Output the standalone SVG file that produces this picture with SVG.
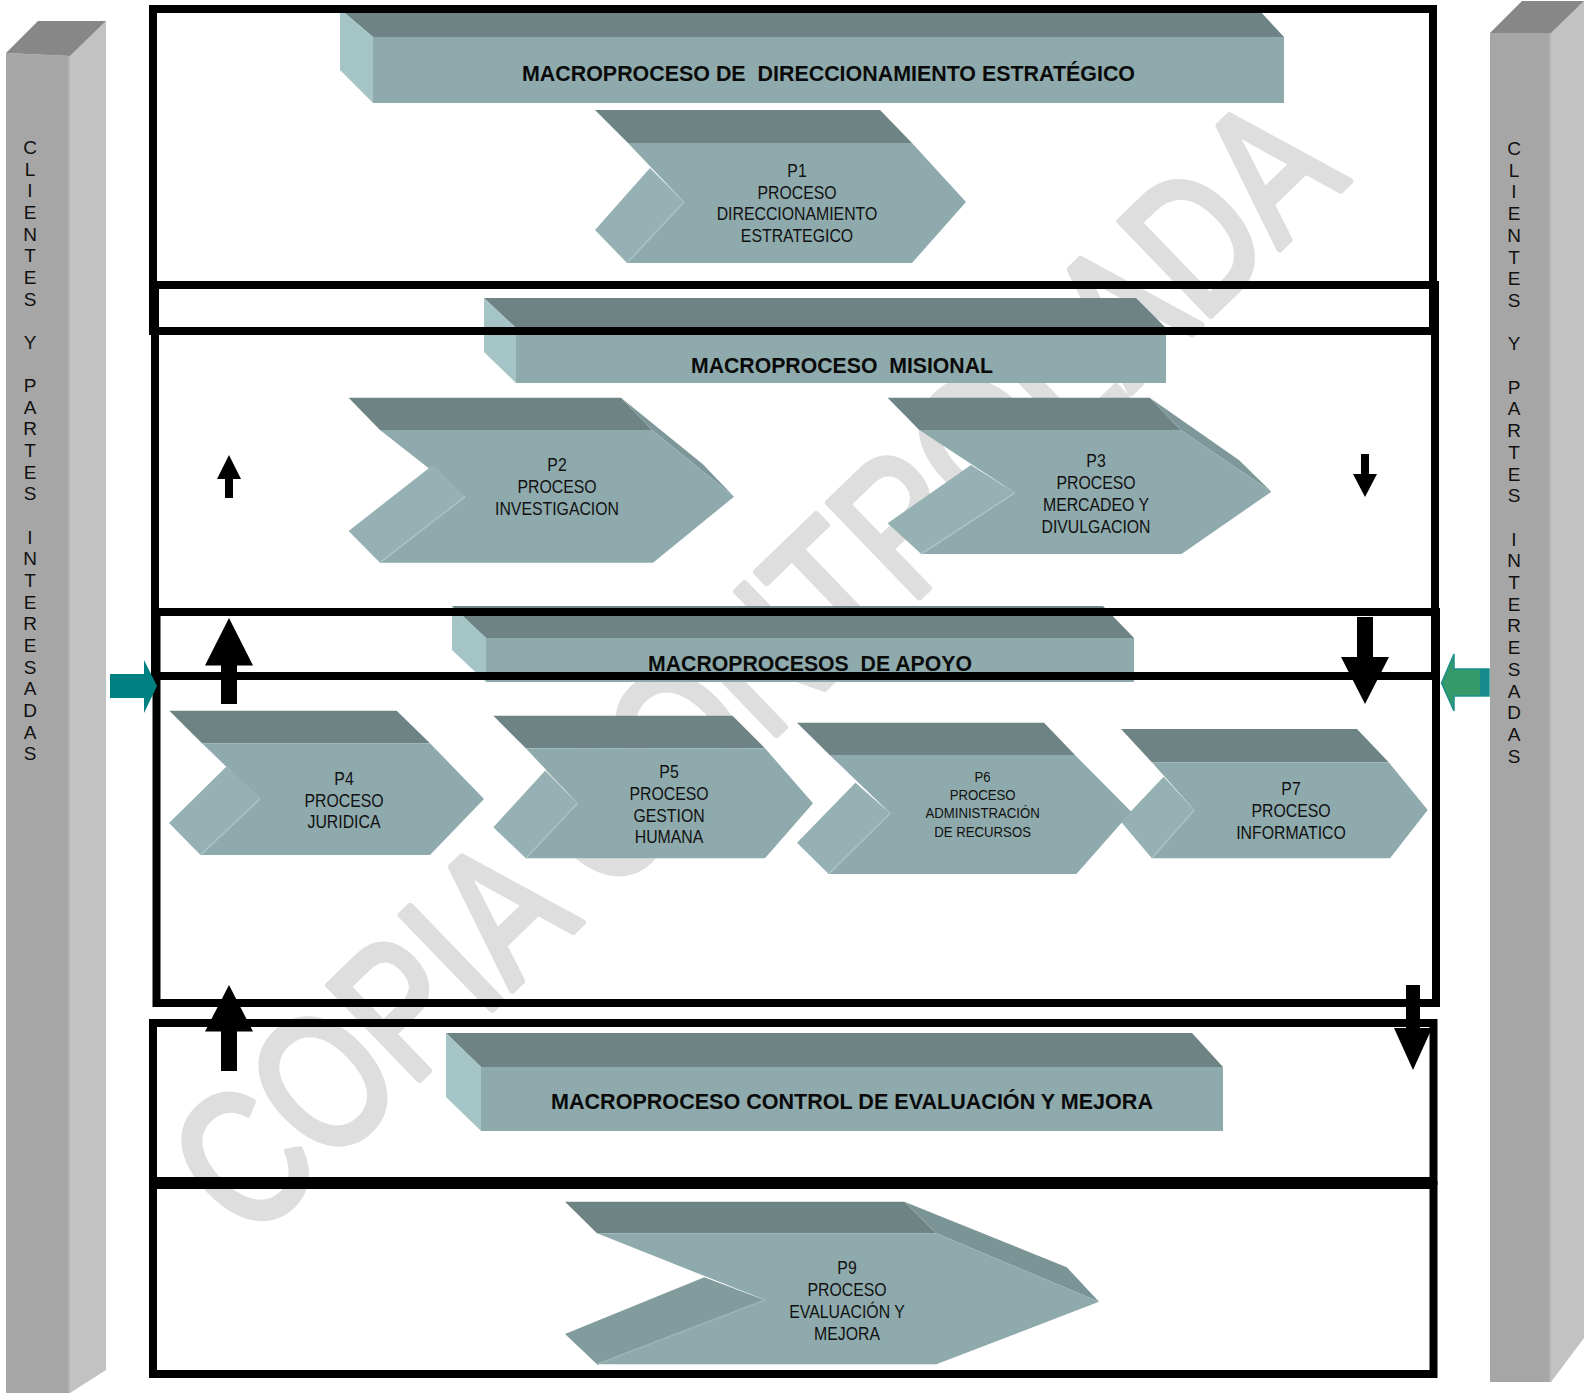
<svg xmlns="http://www.w3.org/2000/svg" width="1584" height="1393" viewBox="0 0 1584 1393">
<style>
.top{fill:#6e8384}
.front{fill:#8eaaac}
.side{fill:#a5c4c6}
.notch{fill:#96b1b3}
.rface{fill:#7e9799}
.frame{fill:none;stroke:#000;stroke-width:8}
.arr{fill:#000}
.lbl{font-family:'Liberation Sans',Arial,sans-serif;font-size:18px;fill:#111;text-anchor:middle}
.lbl15{font-family:'Liberation Sans',Arial,sans-serif;font-size:15px;fill:#111;text-anchor:middle}
.hdr{font-family:'Liberation Sans',Arial,sans-serif;font-weight:bold;font-size:22px;fill:#0a0a0a;white-space:pre}
.pil{font-family:'Liberation Sans',Arial,sans-serif;font-size:19px;fill:#111;text-anchor:middle}
.pfront{fill:#a6a6a6}
.pside{fill:#c2c2c2}
.ptop{fill:#878787}
.wm{font-family:'Liberation Sans',Arial,sans-serif;font-size:190px;fill:#dedede;stroke:#dedede;stroke-width:7;stroke-linejoin:round}
</style>
<rect width="1584" height="1393" fill="#ffffff"/>

<g id="watermark">
<text class="wm" x="0" y="0" text-anchor="middle" textLength="1530" lengthAdjust="spacingAndGlyphs" transform="translate(800 712) rotate(-44)">COPIA CONTROLADA</text>
</g>

<g id="pillar-left">
<polygon class="pfront" points="6,53 70,56 70,1393 6,1393"/>
<polygon class="pside" points="70,56 106,21 106,1370 70,1393"/>
<polygon class="ptop" points="6,53 38,21 106,21 70,56"/>
<rect x="68" y="56" width="2" height="1337" fill="#b4b4b4"/>
<text class="pil"><tspan x="30" y="154">C</tspan><tspan x="30" y="175.65">L</tspan><tspan x="30" y="197.3">I</tspan><tspan x="30" y="218.95">E</tspan><tspan x="30" y="240.6">N</tspan><tspan x="30" y="262.25">T</tspan><tspan x="30" y="283.9">E</tspan><tspan x="30" y="305.55">S</tspan><tspan x="30" y="348.85">Y</tspan><tspan x="30" y="392.15">P</tspan><tspan x="30" y="413.8">A</tspan><tspan x="30" y="435.45">R</tspan><tspan x="30" y="457.1">T</tspan><tspan x="30" y="478.75">E</tspan><tspan x="30" y="500.4">S</tspan><tspan x="30" y="543.7">I</tspan><tspan x="30" y="565.35">N</tspan><tspan x="30" y="587">T</tspan><tspan x="30" y="608.65">E</tspan><tspan x="30" y="630.3">R</tspan><tspan x="30" y="651.95">E</tspan><tspan x="30" y="673.6">S</tspan><tspan x="30" y="695.25">A</tspan><tspan x="30" y="716.9">D</tspan><tspan x="30" y="738.55">A</tspan><tspan x="30" y="760.2">S</tspan></text>
</g>

<g id="pillar-right">
<polygon class="pfront" points="1490,33 1551,33 1551,1382 1490,1382"/>
<polygon class="pside" points="1551,33 1584,1 1584,1338 1551,1382"/>
<polygon class="ptop" points="1490,33 1522,1 1584,1 1551,33"/>
<rect x="1549" y="33" width="2" height="1349" fill="#b4b4b4"/>
<text class="pil"><tspan x="1514" y="155">C</tspan><tspan x="1514" y="176.7">L</tspan><tspan x="1514" y="198.4">I</tspan><tspan x="1514" y="220.1">E</tspan><tspan x="1514" y="241.8">N</tspan><tspan x="1514" y="263.5">T</tspan><tspan x="1514" y="285.2">E</tspan><tspan x="1514" y="306.9">S</tspan><tspan x="1514" y="350.3">Y</tspan><tspan x="1514" y="393.7">P</tspan><tspan x="1514" y="415.4">A</tspan><tspan x="1514" y="437.1">R</tspan><tspan x="1514" y="458.8">T</tspan><tspan x="1514" y="480.5">E</tspan><tspan x="1514" y="502.2">S</tspan><tspan x="1514" y="545.6">I</tspan><tspan x="1514" y="567.3">N</tspan><tspan x="1514" y="589">T</tspan><tspan x="1514" y="610.7">E</tspan><tspan x="1514" y="632.4">R</tspan><tspan x="1514" y="654.1">E</tspan><tspan x="1514" y="675.8">S</tspan><tspan x="1514" y="697.5">A</tspan><tspan x="1514" y="719.2">D</tspan><tspan x="1514" y="740.9">A</tspan><tspan x="1514" y="762.6">S</tspan></text>
</g>

<g id="H1">
<polygon class="top" points="340,9 1258,9 1284,37 373,37"/>
<polygon class="side" points="340,9 373,37 373,103 340,70"/>
<rect class="front" x="373" y="37" width="911" height="66"/>
<text class="hdr" x="522" y="81" textLength="613" lengthAdjust="spacingAndGlyphs" xml:space="preserve">MACROPROCESO DE  DIRECCIONAMIENTO ESTRATÉGICO</text>
</g>

<g id="P1">
<polygon class="top" points="595,110 880,110 912,143 628,143"/>
<polygon class="front" points="628,143 912,143 966,202 912,263 627,263 684,202"/>
<polygon class="notch" points="650,168 684,202 627,263 595,230"/>
<line x1="684" y1="202" x2="627" y2="263" stroke="#a9c4c6" stroke-width="1.5"/>
<g transform="translate(797 0) scale(0.88 1)">
<text class="lbl" x="0" y="177">P1</text>
<text class="lbl" x="0" y="199">PROCESO</text>
<text class="lbl" x="0" y="220.5">DIRECCIONAMIENTO</text>
<text class="lbl" x="0" y="242">ESTRATEGICO</text>
</g>
</g>

<g id="H2">
<polygon class="top" points="484,298 1136,298 1166,328 516,328"/>
<polygon class="side" points="484,298 516,328 516,383 484,352"/>
<rect class="front" x="516" y="328" width="650" height="55"/>
<text class="hdr" x="691" y="373" textLength="302" lengthAdjust="spacingAndGlyphs" xml:space="preserve">MACROPROCESO  MISIONAL</text>
</g>

<g id="P2">
<polygon class="top" points="348.6,397.7 621,397.7 652,430 380,430"/>
<polygon class="rface" points="621,397.7 702.6,464 734,496.7 652,430"/>
<polygon class="front" points="380,430 652,430 734,496.7 653,562.7 380,562.7 465,496.7"/>
<polygon class="notch" points="433.6,464.4 465,496.7 380,562.7 348.6,531"/>
<line x1="465" y1="496.7" x2="380" y2="562.7" stroke="#a9c4c6" stroke-width="1.5"/>
<g transform="translate(557 0) scale(0.88 1)">
<text class="lbl" x="0" y="471">P2</text>
<text class="lbl" x="0" y="493">PROCESO</text>
<text class="lbl" x="0" y="515">INVESTIGACION</text>
</g>
</g>

<g id="P3">
<polygon class="top" points="887.6,397.7 1149.7,397.7 1180.7,430 919.3,430"/>
<polygon class="rface" points="1149.7,397.7 1238.9,460 1271.4,491.7 1180.7,430"/>
<polygon class="front" points="919.3,430 1180.7,430 1271.4,491.7 1181.5,554 921.2,554 1015,492.7"/>
<polygon class="notch" points="971,465 1015,492.7 921.2,554 887.6,523.3"/>
<line x1="1015" y1="492.7" x2="921.2" y2="554" stroke="#a9c4c6" stroke-width="1.5"/>
<g transform="translate(1096 0) scale(0.88 1)">
<text class="lbl" x="0" y="467">P3</text>
<text class="lbl" x="0" y="489">PROCESO</text>
<text class="lbl" x="0" y="511.5">MERCADEO Y</text>
<text class="lbl" x="0" y="533">DIVULGACION</text>
</g>
</g>

<g id="H3">
<polygon class="top" points="452,606 1103,606 1134,638 486,638"/>
<polygon class="side" points="452,606 486,638 486,682 452,650"/>
<rect class="front" x="486" y="638" width="648" height="44"/>
<text class="hdr" x="648" y="671" textLength="324" lengthAdjust="spacingAndGlyphs" xml:space="preserve">MACROPROCESOS  DE APOYO</text>
</g>

<g id="P4">
<polygon class="top" points="169.4,710.7 396.7,710.7 430,743.3 202,743.3"/>
<polygon class="front" points="202,743.3 430,743.3 484,799 430,855 200.5,855 260,799"/>
<polygon class="notch" points="227,766 260,799 200.5,855 169,823"/>
<line x1="260" y1="799" x2="200.5" y2="855" stroke="#a9c4c6" stroke-width="1.5"/>
<g transform="translate(344 0) scale(0.88 1)">
<text class="lbl" x="0" y="785">P4</text>
<text class="lbl" x="0" y="806.7">PROCESO</text>
<text class="lbl" x="0" y="828.3">JURIDICA</text>
</g>
</g>

<g id="P5">
<polygon class="top" points="493.3,715.7 732.5,715.7 765,748.3 525.8,748.3"/>
<polygon class="front" points="525.8,748.3 765,748.3 813,803.3 765,858.3 525.8,858.3 577.5,803.3"/>
<polygon class="notch" points="545,770.7 577.5,803.3 525.8,858.3 493.3,827.3"/>
<line x1="577.5" y1="803.3" x2="525.8" y2="858.3" stroke="#a9c4c6" stroke-width="1.5"/>
<g transform="translate(669 0) scale(0.88 1)">
<text class="lbl" x="0" y="778">P5</text>
<text class="lbl" x="0" y="800">PROCESO</text>
<text class="lbl" x="0" y="821.7">GESTION</text>
<text class="lbl" x="0" y="843.3">HUMANA</text>
</g>
</g>

<g id="P6">
<polygon class="top" points="797,722.7 1044,722.7 1075,755 829.7,755"/>
<polygon class="front" points="829.7,755 1075,755 1131.3,811.7 1076.4,874 828.7,874 890.3,813.3"/>
<polygon class="notch" points="855.4,782.7 890.3,813.3 828.7,874 797,842.7"/>
<line x1="890.3" y1="813.3" x2="828.7" y2="874" stroke="#a9c4c6" stroke-width="1.5"/>
<g transform="translate(982.6 0) scale(0.88 1)">
<text class="lbl15" x="0" y="781.7">P6</text>
<text class="lbl15" x="0" y="800">PROCESO</text>
<text class="lbl15" x="0" y="818.3">ADMINISTRACIÓN</text>
<text class="lbl15" x="0" y="836.7">DE RECURSOS</text>
</g>
</g>

<g id="P7">
<polygon class="top" points="1121,729 1357,729 1388.7,762.3 1151.8,762.3"/>
<polygon class="front" points="1151.8,762.3 1388.7,762.3 1427.7,810 1390,858.3 1151.8,858.3 1194.4,810"/>
<polygon class="notch" points="1163.6,776.7 1194.4,810 1151.8,858.3 1121,821.7"/>
<line x1="1194.4" y1="810" x2="1151.8" y2="858.3" stroke="#a9c4c6" stroke-width="1.5"/>
<g transform="translate(1291 0) scale(0.88 1)">
<text class="lbl" x="0" y="795">P7</text>
<text class="lbl" x="0" y="816.7">PROCESO</text>
<text class="lbl" x="0" y="839">INFORMATICO</text>
</g>
</g>

<g id="H4">
<polygon class="top" points="446,1033 1192,1033 1223,1067 481,1067"/>
<polygon class="side" points="446,1033 481,1067 481,1131 446,1097"/>
<rect class="front" x="481" y="1067" width="742" height="64"/>
<text class="hdr" x="551" y="1109" textLength="602" lengthAdjust="spacingAndGlyphs">MACROPROCESO CONTROL DE EVALUACIÓN Y MEJORA</text>
</g>

<g id="P9">
<polygon class="top" points="565,1201.7 904.3,1201.7 936.4,1233.3 597,1233.3"/>
<polygon fill="#7b9596" points="904.3,1201.7 1066.8,1267.3 1099,1301.7 936.4,1233.3"/>
<polygon class="front" points="597,1233.3 936.4,1233.3 1099,1301.7 936.4,1364.3 597,1364.3 765,1300"/>
<polygon fill="#829b9c" points="704.3,1277.3 765,1300 597,1364.3 565,1334"/>
<line x1="765" y1="1300" x2="597" y2="1364.3" stroke="#9ab5b6" stroke-width="1.5"/>
<g transform="translate(847 0) scale(0.88 1)">
<text class="lbl" x="0" y="1274.5">P9</text>
<text class="lbl" x="0" y="1296.5">PROCESO</text>
<text class="lbl" x="0" y="1318.3">EVALUACIÓN Y</text>
<text class="lbl" x="0" y="1340">MEJORA</text>
</g>
</g>

<g id="frames">
<rect class="frame" x="153" y="9" width="1280" height="322"/>
<rect class="frame" x="155" y="285" width="1280" height="391"/>
<rect class="frame" x="156.5" y="612" width="1279.5" height="391"/>
<rect class="frame" x="153" y="1023" width="1280.5" height="158"/>
<rect class="frame" x="153" y="1185" width="1280.5" height="189"/>
</g>

<g id="connectors">
<polygon class="arr" points="229,455 241,479 233,479 233,498 225,498 225,479 217,479"/>
<polygon class="arr" points="1361,454 1369,454 1369,474 1377,474 1365,497 1353,474 1361,474"/>
<polygon class="arr" points="229,618 253,665.5 237,665.5 237,704 221,704 221,665.5 205,665.5"/>
<polygon class="arr" points="1357,617 1373,617 1373,657 1389,657 1365,704 1341,657 1357,657"/>
<polygon class="arr" points="229,985 253,1031.5 237,1031.5 237,1071 221,1071 221,1031.5 205,1031.5"/>
<polygon class="arr" points="1406,985 1420,985 1420,1028 1432,1028 1413,1070 1394,1028 1406,1028"/>
<polygon fill="#008080" points="110,674 144,674 144,660 157,686 144,713 144,698 110,698"/>
<polygon fill="#36996a" stroke="#1b8f8a" stroke-width="1.5" points="1441.5,683 1454,654 1454,669 1489,669 1489,696 1454,696 1454,711"/>
<rect x="1480" y="669" width="9" height="27" fill="#158b8b"/>
</g>
</svg>
